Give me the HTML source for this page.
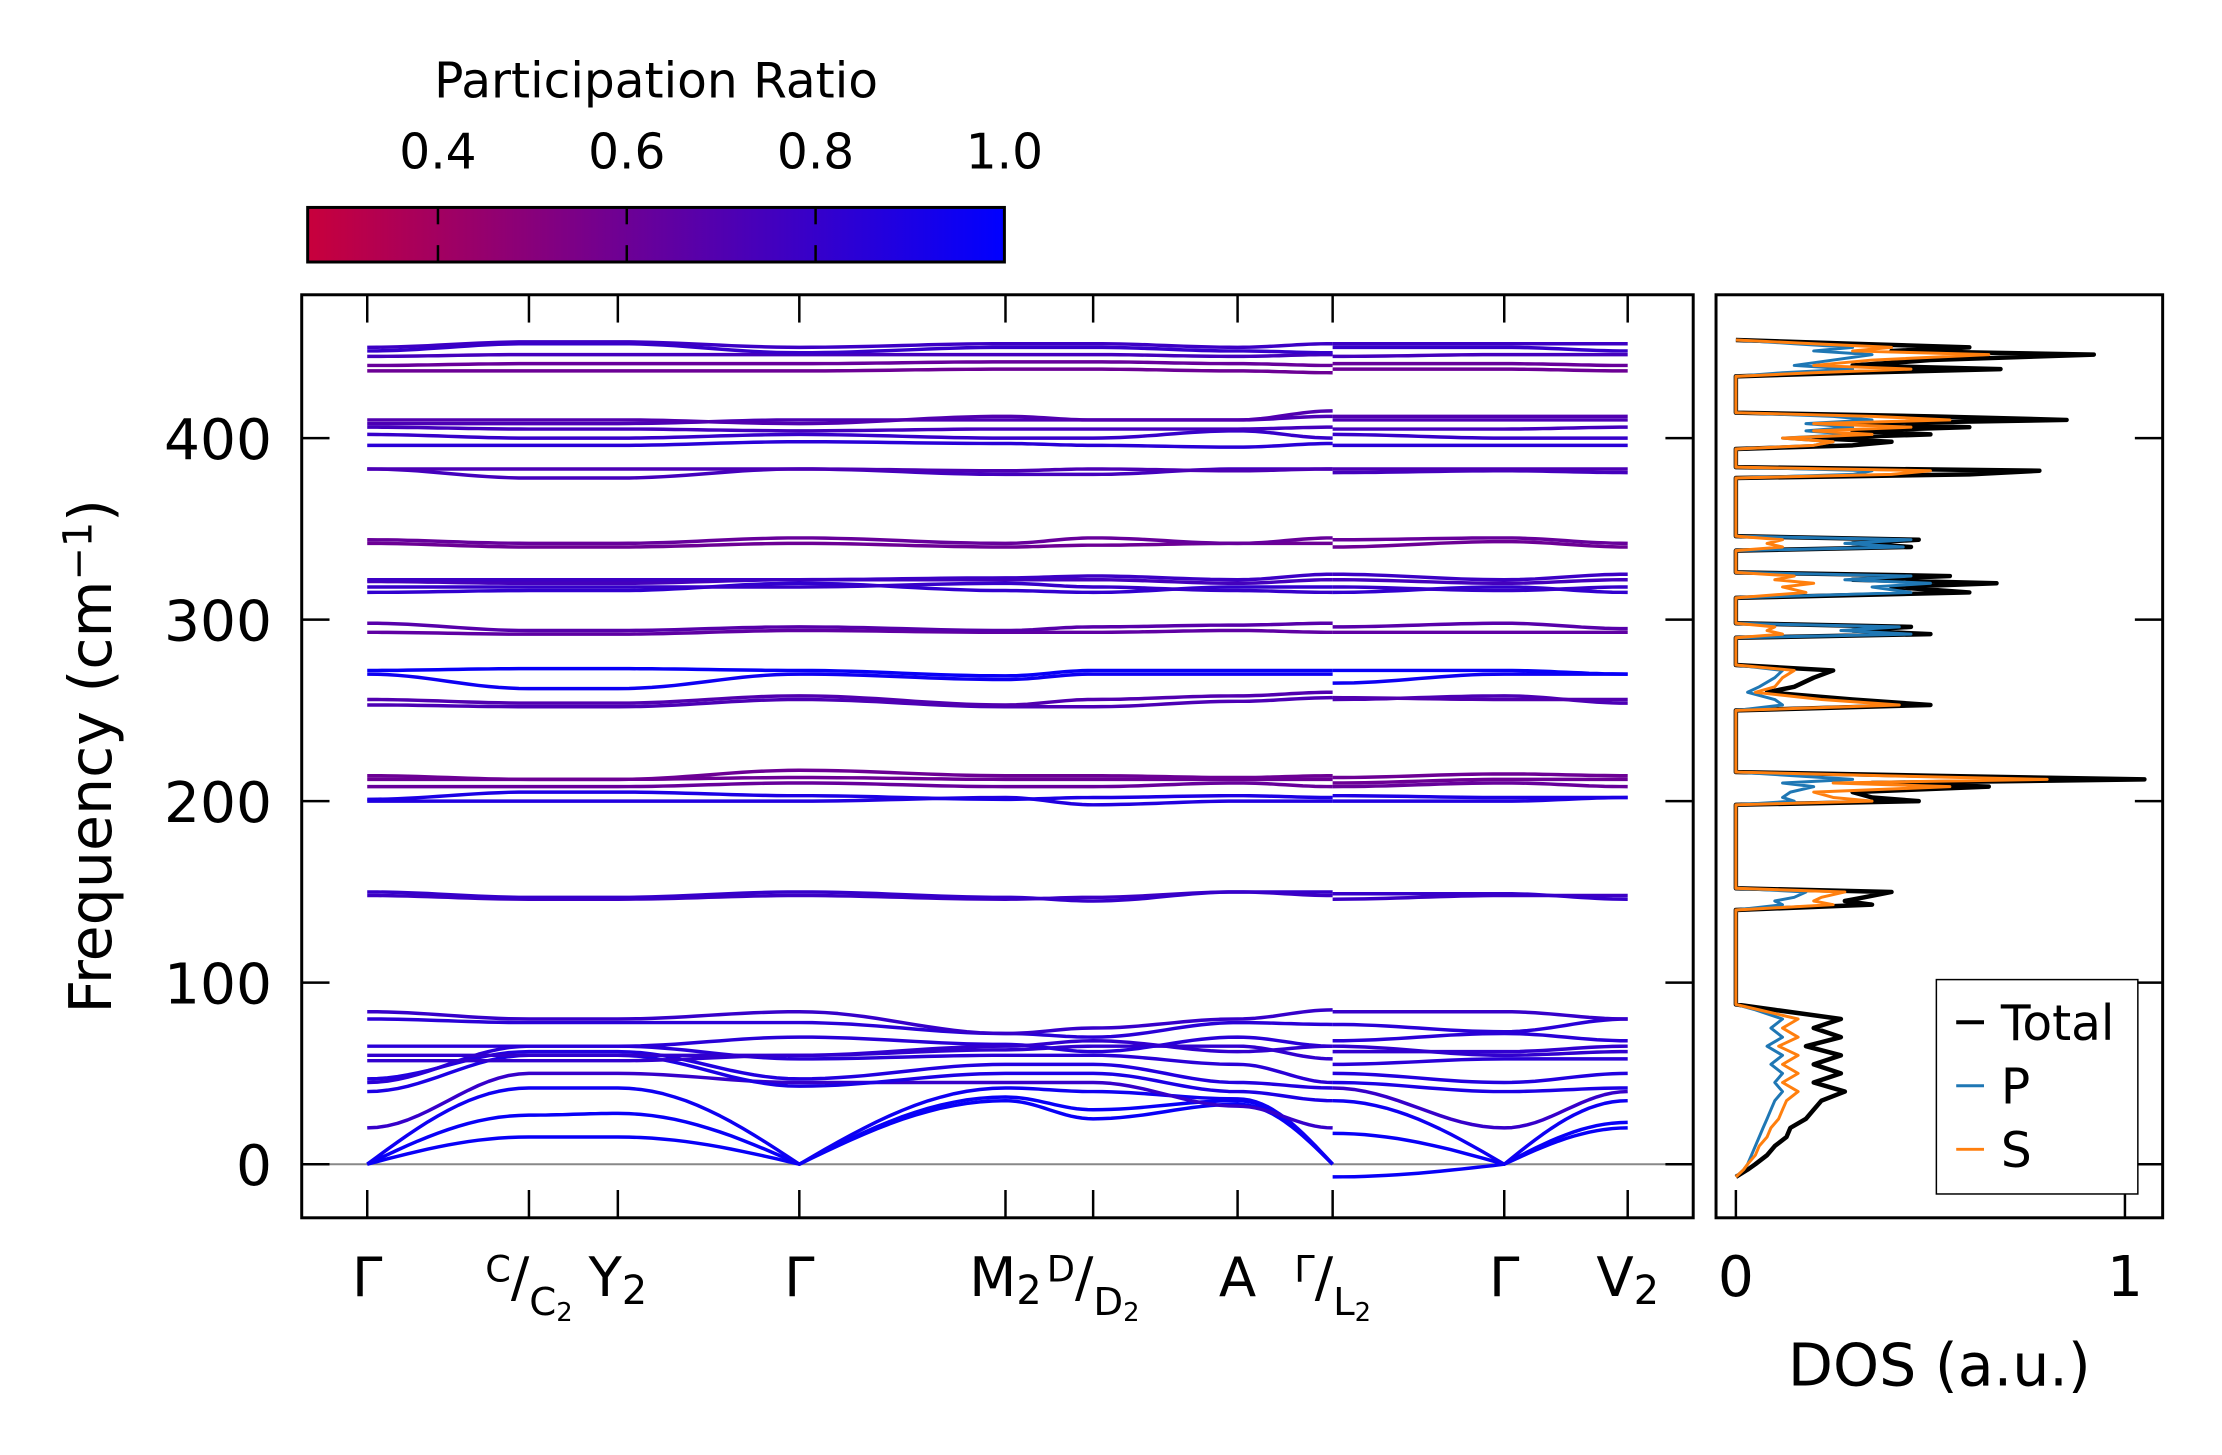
<!DOCTYPE html>
<html><head><meta charset="utf-8"><style>
html,body{margin:0;padding:0;background:#fff;}
svg{display:block;font-family:"DejaVu Sans","Liberation Sans",sans-serif;}
</style></head><body>
<svg id="fig" width="2222" height="1455" viewBox="0 0 2222 1455" xmlns="http://www.w3.org/2000/svg">
<defs>
<linearGradient id="cmap" x1="0" x2="1" y1="0" y2="0">
<stop offset="0" stop-color="rgb(200,0,60)"/><stop offset="1" stop-color="rgb(0,0,255)"/>
</linearGradient>
<clipPath id="mainclip"><rect x="304" y="297" width="1402" height="930"/></clipPath>
<clipPath id="dosclip"><rect x="1729" y="297" width="450" height="930"/></clipPath>
</defs>
<g transform="scale(0.9925)">
<g>
<text x="661" y="98" font-size="49" text-anchor="middle">Participation Ratio</text>
<rect x="310" y="209" width="702" height="55" fill="url(#cmap)" stroke="#000" stroke-width="3"/>
<g id="cbticks"></g>
</g>
<g id="main">
<line x1="304" x2="1706" y1="1173" y2="1173" stroke="#888" stroke-width="2"/>
<g id="bands" clip-path="url(#mainclip)"></g>
<rect x="304" y="297" width="1402" height="930" fill="none" stroke="#000" stroke-width="3"/>
<g id="mainticks"></g>
<text transform="translate(112,762) rotate(-90)" font-size="59" text-anchor="middle">Frequency (cm<tspan dy="-20" font-size="40">−1</tspan><tspan dy="20">)</tspan></text>
</g>
<g id="dos">
<g id="doslines" clip-path="url(#dosclip)"></g>
<rect x="1729" y="297" width="450" height="930" fill="none" stroke="#000" stroke-width="3"/>
<g id="dosticks"></g>
<text x="1954" y="1396" font-size="59" text-anchor="middle">DOS (a.u.)</text>
<g>
<rect x="1951" y="987" width="203" height="216" fill="#fff" stroke="#000" stroke-width="1.5"/>
<line x1="1971" x2="1999" y1="1030" y2="1030" stroke="#000" stroke-width="4"/>
<text x="2016" y="1048" font-size="49">Total</text>
<line x1="1971" x2="1999" y1="1094" y2="1094" stroke="#1f77b4" stroke-width="3"/>
<text x="2016" y="1112" font-size="49">P</text>
<line x1="1971" x2="1999" y1="1158" y2="1158" stroke="#ff7f0e" stroke-width="3"/>
<text x="2016" y="1176" font-size="49">S</text>
</g>
</g>
</g>
</svg>
<script>
const kLabels = ["Γ","C|C2","Y2","Γ","M2","D|D2","A","Γ|L2","Γ","V2"];
const kPos = [0, 1.31, 2.03, 3.5, 5.17, 5.88, 7.05, 7.82, 7.82, 9.21, 10.21];
const yTicks = [0,100,200,300,400];
const cbTicks = [0.4,0.6,0.8,1.0];
const dosTicks = [0,1];
const bands = [
[0,15,15,0,35,25,33,0,-7,0,20],
[0,27,28,0,37,30,35,0,17,0,23],
[0,42,42,0,42,40,36,0,35,0,35],
[20,50,50,45,45,45,32,20,42,20,40],
[40,60,60,43,50,50,40,35,45,40,42],
[47,62,62,47,55,55,45,42,50,45,50],
[45,65,65,58,60,60,55,45,55,58,58],
[60,60,60,60,63,65,65,58,65,60,62],
[65,65,65,70,66,62,70,65,68,72,68],
[80,78,78,78,72,70,78,77,77,73,80],
[84,80,80,84,72,75,80,85,84,84,80],
[57,57,57,60,65,68,62,65,62,62,65],
[148,146,146,148,146,147,150,148,146,148,148],
[150,147,147,150,147,145,150,150,149,149,146],
[200,200,200,200,202,198,200,200,200,200,202],
[201,205,205,203,201,202,203,202,203,202,202],
[208,208,208,210,208,208,210,208,208,210,208],
[212,212,212,213,212,212,212,212,210,212,212],
[214,212,212,217,214,214,213,214,213,215,214],
[253,252,252,256,252,252,255,257,256,258,254],
[256,254,254,258,253,256,258,260,257,256,256],
[270,262,262,270,267,270,270,270,265,270,270],
[272,273,273,272,269,272,272,272,272,272,270],
[293,292,292,294,293,293,294,293,293,293,293],
[298,294,294,296,294,296,297,298,296,298,295],
[315,316,316,320,316,315,318,318,315,318,315],
[318,318,318,318,320,318,316,315,318,316,318],
[321,320,320,322,322,322,320,322,322,320,322],
[322,322,322,322,323,324,322,325,325,322,325],
[342,340,340,342,340,341,342,342,340,343,340],
[344,342,342,345,342,345,342,345,344,345,342],
[383,378,378,383,380,380,383,383,381,382,381],
[383,383,383,383,382,383,382,383,383,383,383],
[396,396,396,398,397,396,395,397,396,396,396],
[402,400,400,402,400,400,404,400,402,400,400],
[406,405,405,404,405,405,405,406,405,405,406],
[408,408,408,410,410,410,410,412,410,410,410],
[410,410,410,408,412,410,410,415,412,412,412],
[437,437,437,437,438,438,437,436,438,438,437],
[440,441,441,441,442,442,441,440,441,441,440],
[445,446,446,446,446,446,445,446,445,446,446],
[448,452,452,447,450,450,448,447,450,450,448],
[450,453,453,450,452,452,450,452,452,452,452]
];
const bandPR = [0.97,0.97,0.95,0.8,0.9,0.88,0.85,0.82,0.85,0.85,0.8,0.82,0.78,0.8,0.88,0.9,0.62,0.6,0.6,0.72,0.7,0.95,0.97,0.65,0.68,0.82,0.8,0.75,0.78,0.6,0.62,0.75,0.72,0.85,0.8,0.75,0.72,0.7,0.6,0.62,0.75,0.8,0.78];
const dosFreq = [-7,-3,0,5,10,15,20,25,30,35,40,45,50,55,60,65,70,75,80,85,88,140,143,145,147,150,152,198,200,202,205,208,210,212,214,216,250,253,256,260,263,268,272,275,290,292,294,296,298,312,315,318,320,322,324,326,338,340,342,344,346,378,380,382,384,394,396,398,400,402,404,406,408,410,412,414,434,436,438,440,443,446,448,450,452,454];
const dosTotal = [0,0.03,0.05,0.08,0.1,0.13,0.14,0.18,0.2,0.22,0.28,0.2,0.27,0.2,0.27,0.18,0.27,0.2,0.27,0.1,0,0,0.35,0.28,0.33,0.4,0,0,0.47,0.35,0.3,0.65,0.35,1.05,0.5,0,0,0.5,0.3,0.08,0.15,0.2,0.25,0,0,0.5,0.3,0.45,0,0,0.6,0.4,0.67,0.3,0.55,0,0,0.45,0.3,0.47,0,0,0.6,0.78,0,0,0.3,0.4,0.2,0.5,0.3,0.6,0.3,0.85,0.5,0,0,0.3,0.68,0.3,0.5,0.92,0.4,0.6,0.3,0];
const dosP = [0,0.02,0.03,0.04,0.05,0.06,0.07,0.08,0.09,0.1,0.12,0.1,0.12,0.09,0.12,0.08,0.12,0.09,0.12,0.05,0,0,0.12,0.1,0.15,0.18,0,0,0.15,0.12,0.14,0.2,0.12,0.3,0.15,0,0,0.12,0.1,0.03,0.06,0.1,0.12,0,0,0.45,0.27,0.42,0,0,0.45,0.35,0.5,0.28,0.45,0,0,0.43,0.28,0.45,0,0,0.3,0.35,0,0,0.2,0.25,0.12,0.3,0.18,0.3,0.18,0.35,0.25,0,0,0.12,0.3,0.15,0.25,0.35,0.2,0.3,0.15,0];
const dosS = [0,0.02,0.03,0.05,0.06,0.08,0.09,0.11,0.12,0.13,0.16,0.12,0.16,0.12,0.16,0.11,0.16,0.12,0.16,0.06,0,0,0.25,0.2,0.22,0.28,0,0,0.35,0.25,0.2,0.55,0.25,0.8,0.38,0,0,0.42,0.22,0.05,0.1,0.12,0.15,0,0,0.12,0.08,0.1,0,0,0.18,0.12,0.2,0.1,0.15,0,0,0.12,0.08,0.12,0,0,0.4,0.5,0,0,0.2,0.25,0.12,0.35,0.2,0.45,0.2,0.55,0.35,0,0,0.2,0.45,0.2,0.35,0.65,0.3,0.4,0.2,0];

const NS="http://www.w3.org/2000/svg";
const X0=370, X1=1640, Y0=1173, YPER=1.829;
const kx = k => X0 + (k - kPos[0])/(kPos[kPos.length-1]-kPos[0])*(X1-X0);
const fy = f => Y0 - f*YPER;
const dx = d => 1749 + d*392;
const cbx = v => 310 + (v-0.262)/(1.0-0.262)*702;
function mk(tag, attrs, parent){const e=document.createElementNS(NS,tag);for(const k in attrs)e.setAttribute(k,attrs[k]);parent.appendChild(e);return e;}
function prColor(p){const t=Math.max(0,Math.min(1,(p-0.262)/(1-0.262)));return `rgb(${Math.round(200*(1-t))},0,${Math.round(60+195*t)})`;}

const cbg=document.getElementById('cbticks');
cbTicks.forEach(v=>{
  const x=cbx(v);
  if(v<1){
    const a=mk('line',{x1:x,x2:x,y1:209,y2:226,stroke:'#000','stroke-width':2.5},cbg);
    
    
    const b=mk('line',{x1:x,x2:x,y1:247,y2:264,stroke:'#000','stroke-width':2.5},cbg);
    
    
  }
  const t=mk('text',{x:x,y:170,'font-size':49,'text-anchor':'middle'},cbg);
  t.textContent=v.toFixed(1);
  
  
});

const bg=document.getElementById('bands');
bands.forEach((b,bi)=>{
  [[0,7],[8,10]].forEach(([s,e])=>{
    let pts=[];
    for(let i=s;i<e;i++){
      for(let j=0;j<=16;j++){
        const t=j/16;
        let w;
        if(b[i]===0 && b[i+1]!==0) w=Math.sin(Math.PI*t/2);
        else if(b[i+1]===0 && b[i]!==0) w=1-Math.cos(Math.PI*t/2);
        else w=(1-Math.cos(Math.PI*t))/2;
        const k=kPos[i]+(kPos[i+1]-kPos[i])*t;
        const f=b[i]+(b[i+1]-b[i])*w;
        pts.push(kx(k).toFixed(1)+','+fy(f).toFixed(1));
      }
    }
    const p=mk('polyline',{points:pts.join(' '),fill:'none',stroke:prColor(bandPR[bi]),'stroke-width':3.5,'stroke-linejoin':'round'},bg);
    
    
  });
});

const mt=document.getElementById('mainticks');
const seen={};
kPos.forEach(k=>{
  const x=kx(k); if(seen[x.toFixed(0)])return; seen[x.toFixed(0)]=1;
  const a=mk('line',{x1:x,x2:x,y1:1227,y2:1199,stroke:'#000','stroke-width':2.5},mt);
  
  
  const b=mk('line',{x1:x,x2:x,y1:297,y2:325,stroke:'#000','stroke-width':2.5},mt);
  
  
});
kLabels.forEach((lab,i)=>{
  const idx = i<8 ? i : i+1;
  const x=kx(kPos[idx]);
  const t=mk('text',{x:x,y:1306,'font-size':55,'text-anchor':'middle'},mt);
  
  
  if(lab.includes('|')){
    const [a,b]=lab.split('|');
    const s1=mk('tspan',{'font-size':37,dy:-15},t);s1.textContent=a;
    const s2=mk('tspan',{'font-size':55,dy:15},t);s2.textContent='/';
    const s3=mk('tspan',{'font-size':39,dy:19},t);s3.textContent=b[0];
    if(b.length>1){const s4=mk('tspan',{'font-size':26,dy:6},t);s4.textContent=b.slice(1);}
  } else if(lab.length>1){
    const s1=mk('tspan',{},t);s1.textContent=lab[0];
    const s2=mk('tspan',{'font-size':40,dy:8},t);s2.textContent=lab.slice(1);
  } else t.textContent=lab;
});
yTicks.forEach(v=>{
  const y=fy(v);
  const a=mk('line',{x1:304,x2:332,y1:y,y2:y,stroke:'#000','stroke-width':2.5},mt);
  
  
  const b=mk('line',{x1:1706,x2:1678,y1:y,y2:y,stroke:'#000','stroke-width':2.5},mt);
  
  
  const t=mk('text',{x:274,y:y+21,'font-size':57,'text-anchor':'end'},mt);
  t.textContent=v;
  
  
});

const dl=document.getElementById('doslines');
[[dosTotal,'#000',4.5,'dos-total-line'],[dosP,'#1f77b4',3,'dos-p-line'],[dosS,'#ff7f0e',3,'dos-s-line']].forEach(([arr,c,w,n])=>{
  const pts=arr.map((d,i)=>dx(d).toFixed(1)+','+fy(dosFreq[i]).toFixed(1)).join(' ');
  const p=mk('polyline',{points:pts,fill:'none',stroke:c,'stroke-width':w,'stroke-linejoin':'round'},dl);
  
  
});
const dt=document.getElementById('dosticks');
dosTicks.forEach(v=>{
  const x=dx(v);
  const a=mk('line',{x1:x,x2:x,y1:1227,y2:1199,stroke:'#000','stroke-width':2.5},dt);
  
  
  const t=mk('text',{x:x,y:1306,'font-size':57,'text-anchor':'middle'},dt);
  t.textContent=v;
  
  
});
yTicks.forEach(v=>{
  const y=fy(v);
  const a=mk('line',{x1:2179,x2:2151,y1:y,y2:y,stroke:'#000','stroke-width':2.5},dt);
  
  
});
</script>
</body></html>
